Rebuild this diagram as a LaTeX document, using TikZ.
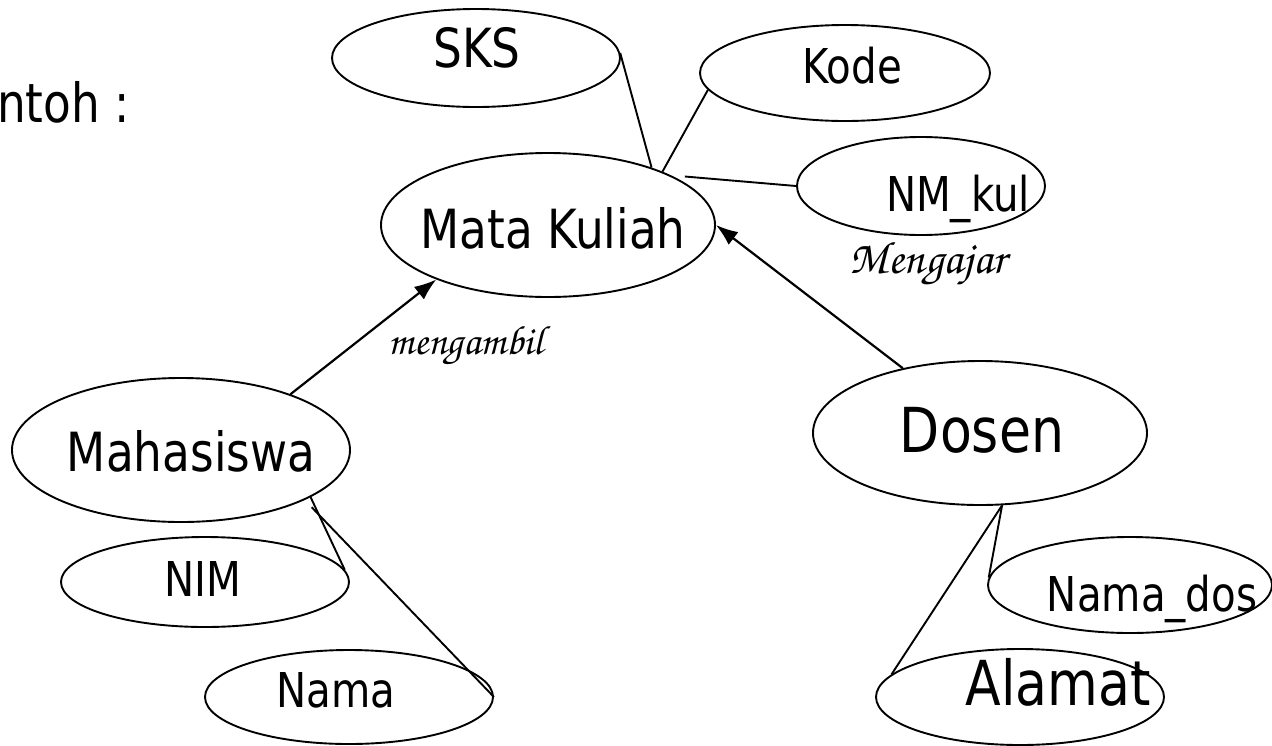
\documentclass[tikz,border=0pt]{standalone}
\usepackage{fontspec}
\newfontfamily\erfont{DejaVu Sans}[FakeStretch=0.84]
\usetikzlibrary{shapes.geometric,arrows.meta}

\newcommand\txtbig{\erfont\fontsize{54}{60}\selectfont}
\newcommand\txtmid{\erfont\fontsize{48}{54}\selectfont}
\newcommand\txthuge{\erfont\fontsize{62}{70}\selectfont}
\newcommand\relsmall{\fontencoding{T1}\fontfamily{pzc}\fontseries{mb}\fontshape{it}\fontsize{41}{45}\selectfont}
\newcommand\rellarge{\fontencoding{T1}\fontfamily{pzc}\fontseries{mb}\fontshape{it}\fontsize{46}{50}\selectfont}

\begin{document}
\begin{tikzpicture}[x=1pt, y=-1pt,
	attr/.style={ellipse, draw=black, line width=1.9pt, inner sep=0pt},
	link/.style={line width=1.9pt},
	rel/.style={line width=2.2pt, -{Latex[length=22pt,width=16pt]}}]
			\useasboundingbox (0,0) rectangle (1272,745);
			\node[anchor=base west, inner sep=0pt, font=\txtbig](judul) at (-3,122){ntoh :};
			\node[attr, minimum width=334pt, minimum height=144pt, label={[font=\txtbig, xshift=5pt, yshift=-3pt]center:{Mata Kuliah}}](mk) at (548,225){};
			\node[attr, minimum width=288pt, minimum height=98pt, label={[font=\txtbig, xshift=1pt, yshift=10pt]center:{SKS}}](sks) at (476,58){};
			\node[attr, minimum width=290pt, minimum height=96pt, label={[font=\txtmid, xshift=7pt, yshift=7pt]center:{Kode}}](kode) at (845,73){};
			\node[attr, minimum width=248pt, minimum height=98pt, label={[font=\txtmid, xshift=37pt, yshift=-13pt]center:{NM\_kul}}](nmkul) at (921,186){};
			\node[attr, minimum width=338pt, minimum height=144pt, label={[font=\txtbig, xshift=10pt, yshift=-1pt]center:{Mahasiswa}}](mhs) at (181,450){};
			\node[attr, minimum width=288pt, minimum height=90pt, label={[font=\txtmid, xshift=-2pt, yshift=3pt]center:{NIM}}](nim) at (205,582){};
			\node[attr, minimum width=288pt, minimum height=94pt, label={[font=\txtmid, xshift=-13pt, yshift=7pt]center:{Nama}}](nama) at (349,697){};
			\node[attr, minimum width=334pt, minimum height=144pt, label={[font=\txthuge, xshift=2pt, yshift=3pt]center:{Dosen}}](dosen) at (980,433){};
			\node[attr, minimum width=284pt, minimum height=96pt, label={[font=\txtmid, xshift=22pt, yshift=-14pt]center:{Nama\_dos}}](ndos) at (1130,585){};
			\node[attr, minimum width=288pt, minimum height=96pt, label={[font=\txthuge, xshift=38pt, yshift=15pt]center:{Alamat}}](alamat) at (1020,697){};
			\node[font=\relsmall](mengambil) at (466,346){mengambil};
			\node[font=\rellarge](mengajar) at (928,264){Mengajar};
			\draw[link] (sks.2) -- (mk.29);
			\draw[link] (kode.187) -- (mk.25);
			\draw[link, shorten <=14pt] (mk.22) -- (nmkul.west);
			\draw[link] (mhs.-20) -- (nim.5);
			\draw[link, shorten <=10pt] (mhs.-22) -- (nama.east);
			\draw[link] (dosen.-73) -- (ndos.177);
			\draw[link] (dosen.-73) -- (alamat.170);
			\draw[rel] (mhs.27) -- (mk.206);
			\draw[rel] (dosen.140) -- (mk.east);
\end{tikzpicture}
\end{document}
